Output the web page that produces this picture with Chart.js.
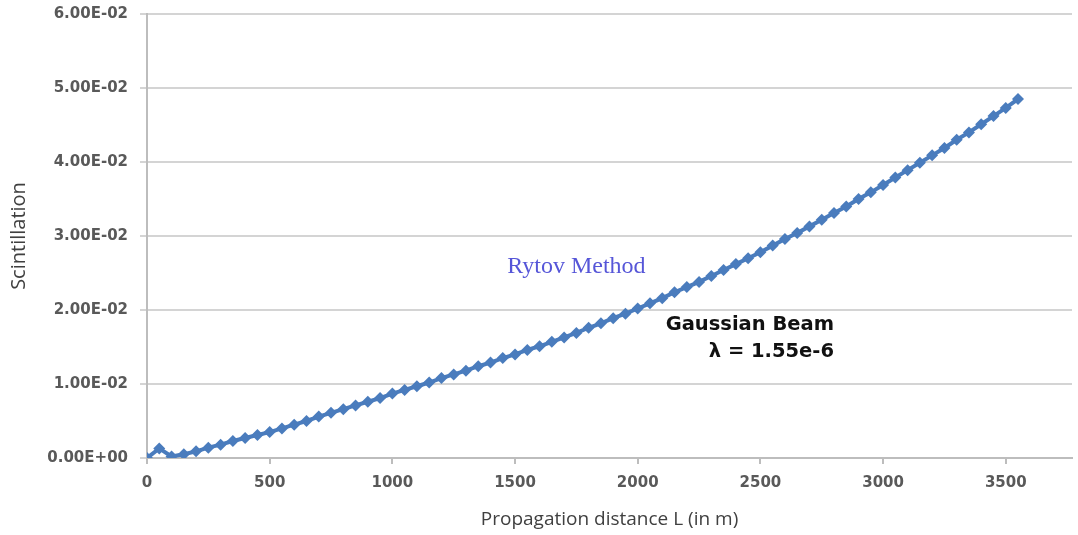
<!DOCTYPE html>
<html>
<head>
<meta charset="utf-8">
<title>Scintillation vs propagation distance</title>
<script src="https://cdn.jsdelivr.net/npm/chart.js@4.4.1/dist/chart.umd.min.js"></script>
<style>
  html, body { margin: 0; padding: 0; background: #ffffff; }
  #wrap { position: relative; width: 1078px; height: 535px; }
</style>
</head>
<body>
<div id="wrap"><canvas id="chart"></canvas></div>
<script>
// Propagation distance L (m)
const distances = [
  0, 50, 100, 150, 200, 250, 300, 350, 400, 450,
  500, 550, 600, 650, 700, 750, 800, 850, 900, 950,
  1000, 1050, 1100, 1150, 1200, 1250, 1300, 1350, 1400, 1450,
  1500, 1550, 1600, 1650, 1700, 1750, 1800, 1850, 1900, 1950,
  2000, 2050, 2100, 2150, 2200, 2250, 2300, 2350, 2400, 2450,
  2500, 2550, 2600, 2650, 2700, 2750, 2800, 2850, 2900, 2950,
  3000, 3050, 3100, 3150, 3200, 3250, 3300, 3350, 3400, 3450,
  3500, 3550
];

// Scintillation index, Rytov method, Gaussian beam at 1.55e-6 m
const scintillation = [
  0.0000, 0.0013, 0.0002, 0.0005, 0.0009, 0.0014, 0.0018, 0.0023, 0.0027, 0.0031,
  0.0035, 0.0040, 0.0045, 0.0050, 0.0056, 0.0061, 0.0066, 0.0071, 0.0076, 0.0081,
  0.0087, 0.0092, 0.0097, 0.0102, 0.0108, 0.0113, 0.0118, 0.0124, 0.0129, 0.0135,
  0.0140, 0.0146, 0.0151, 0.0157, 0.0163, 0.0169, 0.0176, 0.0182, 0.0189, 0.0195,
  0.0202, 0.0209, 0.0216, 0.0224, 0.0231, 0.0238, 0.0246, 0.0254, 0.0262, 0.0270,
  0.0278, 0.0287, 0.0296, 0.0304, 0.0313, 0.0322, 0.0331, 0.0340, 0.0350, 0.0359,
  0.0369, 0.0379, 0.0389, 0.0399, 0.0409, 0.0419, 0.0430, 0.0440, 0.0451, 0.0462,
  0.0473, 0.0485
];

// Axis tick values
const xTicks = [0, 500, 1000, 1500, 2000, 2500, 3000, 3500];
const yTicks = [0, 0.01, 0.02, 0.03, 0.04, 0.05, 0.06];

const points = distances.map((d, i) => ({ x: d, y: scintillation[i] }));

// Spreadsheet-style scientific notation: 6.00E-02, 0.00E+00
function sci(v) {
  if (Math.abs(v) < 1e-12) return '0.00E+00';
  const [m, e] = v.toExponential(2).split('e');
  const n = parseInt(e, 10);
  const sign = n < 0 ? '-' : '+';
  return m + 'E' + sign + String(Math.abs(n)).padStart(2, '0');
}

// Free text labels placed in data coordinates
const noteLabels = {
  id: 'noteLabels',
  afterDatasetsDraw(chart, args, opts) {
    const { ctx, scales } = chart;
    ctx.save();
    for (const n of opts.items) {
      ctx.font = n.font;
      ctx.fillStyle = n.color;
      ctx.textAlign = n.align;
      ctx.textBaseline = 'middle';
      ctx.fillText(n.text, scales.x.getPixelForValue(n.x), scales.y.getPixelForValue(n.y));
    }
    ctx.restore();
  }
};

const gridGrey = '#d4d4d4';
const axisGrey = '#bdbdbd';
const lineBlue = '#4a7cbd';
const tickFont = { family: 'DejaVu Sans', size: 15, weight: 'bold' };

new Chart(document.getElementById('chart'), {
  type: 'scatter',
  data: {
    datasets: [{
      label: 'Rytov Method',
      data: points,
      showLine: true,
      borderColor: lineBlue,
      backgroundColor: lineBlue,
      borderWidth: 4,
      pointStyle: 'rectRot',
      pointRadius: 6,
      pointBorderWidth: 0,
      pointBackgroundColor: lineBlue,
      tension: 0
    }]
  },
  options: {
    responsive: true,
    maintainAspectRatio: false,
    animation: false,
    layout: { padding: { top: 14, right: 3, left: 0, bottom: 0 } },
    plugins: {
      legend: { display: false },
      tooltip: { enabled: false },
      noteLabels: {
        items: [
          { text: 'Rytov Method', x: 1750, y: 0.0258, align: 'center',
            font: '24px "Liberation Serif"', color: '#5656d8' },
          { text: 'Gaussian Beam', x: 2800, y: 0.0180, align: 'right',
            font: 'bold 19.5px "DejaVu Sans"', color: '#111111' },
          { text: 'λ = 1.55e-6', x: 2800, y: 0.0143, align: 'right',
            font: 'bold 19.5px "DejaVu Sans"', color: '#111111' }
        ]
      }
    },
    scales: {
      x: {
        type: 'linear',
        min: 0,
        max: 3770,
        afterBuildTicks(scale) {
          scale.ticks = xTicks.map(v => ({ value: v }));
        },
        afterFit(scale) {
          scale.height = 77;
          scale.paddingLeft = 0;
          scale.paddingRight = 0;
        },
        ticks: {
          color: '#595959',
          font: tickFont,
          padding: 10,
          maxRotation: 0,
          callback: v => String(v)
        },
        grid: {
          drawOnChartArea: false,
          drawTicks: true,
          tickLength: 6,
          tickColor: axisGrey,
          lineWidth: 2
        },
        border: { color: axisGrey, width: 2 },
        title: {
          display: true,
          text: 'Propagation distance L (in m)',
          color: '#404040',
          font: { family: 'Open Sans', size: 19 },
          padding: { top: 0, bottom: 4 }
        }
      },
      y: {
        type: 'linear',
        min: 0,
        max: 0.06,
        afterBuildTicks(scale) {
          scale.ticks = yTicks.map(v => ({ value: v }));
        },
        afterFit(scale) {
          scale.width = 147;
          scale.paddingTop = 0;
          scale.paddingBottom = 0;
        },
        ticks: {
          color: '#595959',
          font: tickFont,
          padding: 12,
          callback: v => sci(v)
        },
        grid: {
          color: gridGrey,
          lineWidth: 2,
          drawTicks: true,
          tickLength: 7,
          tickColor: gridGrey
        },
        border: { color: axisGrey, width: 2 },
        title: {
          display: true,
          text: 'Scintillation',
          color: '#404040',
          font: { family: 'Open Sans', size: 20 },
          padding: { top: 7, bottom: 0 }
        }
      }
    }
  },
  plugins: [noteLabels]
});
</script>
</body>
</html>
